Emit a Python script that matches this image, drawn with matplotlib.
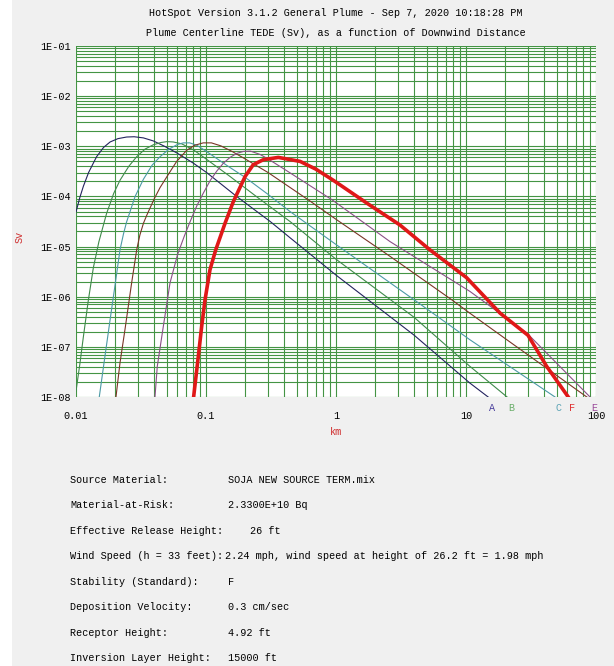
import matplotlib
matplotlib.use("Agg")
import matplotlib.pyplot as plt
from matplotlib.patches import Rectangle
from matplotlib.ticker import FixedLocator, NullFormatter, LogLocator

# ---- data (km, Sv) ----
a_km = [0.0100, 0.0107, 0.0114, 0.0125, 0.0144, 0.0163, 0.0183, 0.0210, 0.0245, 0.0280,
        0.0330, 0.0393, 0.0480, 0.0595, 0.080, 0.101, 0.172, 0.310, 0.443, 1.00, 4.00, 10.7, 14.8]
a_sv = [4.9e-5, 9.5e-5, 1.6e-4, 3.0e-4, 6.2e-4, 9.5e-4, 1.22e-3, 1.42e-3, 1.53e-3, 1.55e-3,
        1.47e-3, 1.28e-3, 1.0e-3, 7.4e-4, 4.6e-4, 3.0e-4, 1.0e-4, 3.2e-5, 1.5e-5, 2.7e-6, 1.7e-7,
        1.9e-8, 1.0e-8]

b_km = [0.0100, 0.0107, 0.0114, 0.0124, 0.0136, 0.0150, 0.0172, 0.0195, 0.0218, 0.0255, 0.0293,
        0.0340, 0.0393, 0.0450, 0.0500, 0.0560, 0.065, 0.080, 0.100, 0.150, 0.250, 0.443, 1.00,
        3.98, 10.7, 20.7]
b_sv = [1.3e-8, 4.5e-8, 1.6e-7, 8.0e-7, 3.8e-6, 1.25e-5, 4.6e-5, 1.15e-4, 2.1e-4, 4.0e-4, 6.2e-4,
        8.8e-4, 1.07e-3, 1.19e-3, 1.24e-3, 1.22e-3, 1.12e-3, 8.5e-4, 5.6e-4, 2.6e-4, 9.5e-5, 3.16e-5,
        5.6e-6, 3.9e-7, 4.1e-8, 1.0e-8]

c_km = [0.0151, 0.0165, 0.0183, 0.0199, 0.0218, 0.0232, 0.0245, 0.0285, 0.0330, 0.0385, 0.0443,
        0.0520, 0.0600, 0.0669, 0.0750, 0.0850, 0.100, 0.150, 0.200, 0.300, 0.443, 1.00, 4.17,
        10.7, 48.4]
c_sv = [1.0e-8, 5.2e-8, 3.5e-7, 1.6e-6, 8.6e-6, 1.8e-5, 3.1e-5, 1.0e-4, 2.2e-4, 4.2e-4, 6.2e-4,
        8.8e-4, 1.08e-3, 1.17e-3, 1.17e-3, 1.05e-3, 8.0e-4, 3.9e-4, 2.4e-4, 1.1e-4, 5.0e-5, 1.1e-5,
        8.0e-7, 1.39e-7, 1.0e-8]

d_km = [0.0203, 0.0218, 0.0238, 0.0268, 0.0293, 0.0310, 0.0330, 0.0350, 0.0400, 0.0443, 0.0520,
        0.0595, 0.0710, 0.0820, 0.0953, 0.110, 0.130, 0.160, 0.200, 0.300, 0.610, 1.00, 2.60,
        7.76, 10.7, 20.5, 85.0]
d_sv = [1.0e-8, 4.8e-8, 2.2e-7, 1.9e-6, 8.6e-6, 1.7e-5, 2.9e-5, 4.2e-5, 9.0e-5, 1.5e-4, 2.9e-4,
        5.0e-4, 8.3e-4, 1.05e-3, 1.17e-3, 1.17e-3, 1.02e-3, 7.8e-4, 5.6e-4, 3.0e-4, 8.6e-5, 3.5e-5,
        6.4e-6, 8.7e-7, 4.7e-7, 1.4e-7, 1.0e-8]

e_km = [0.0405, 0.0422, 0.0470, 0.0529, 0.0605, 0.0680, 0.0753, 0.0850, 0.0953, 0.108, 0.121,
        0.136, 0.153, 0.172, 0.194, 0.220, 0.260, 0.300, 0.400, 0.930, 2.60, 10.7, 29.3, 90.0]
e_sv = [1.0e-8, 4.1e-8, 2.6e-7, 1.9e-6, 7.0e-6, 1.6e-5, 3.1e-5, 6.5e-5, 1.16e-4, 2.1e-4, 3.2e-4,
        4.6e-4, 6.0e-4, 7.2e-4, 7.9e-4, 8.0e-4, 6.9e-4, 5.6e-4, 3.5e-4, 8.6e-5, 1.26e-5, 1.28e-6,
        1.9e-7, 1.0e-8]

f_km = [0.0803, 0.0873, 0.0927, 0.0983, 0.1073, 0.1188, 0.140, 0.162, 0.200, 0.231, 0.276, 0.360,
        0.529, 0.700, 0.953, 1.72, 3.10, 5.28, 10.1, 18.3, 30.0, 41.7, 61.2]
f_sv = [1.0e-8, 6.5e-8, 2.6e-7, 8.7e-7, 3.45e-6, 8.6e-6, 2.9e-5, 7.8e-5, 2.5e-4, 4.3e-4, 5.4e-4,
        6.0e-4, 5.0e-4, 3.5e-4, 2.1e-4, 7.4e-5, 2.7e-5, 8.6e-6, 2.4e-6, 4.7e-7, 1.7e-7, 4.1e-8, 1.0e-8]

classes = ["A", "B", "C", "D", "E", "F"]
curve_km = [a_km, b_km, c_km, d_km, e_km, f_km]
curve_sv = [a_sv, b_sv, c_sv, d_sv, e_sv, f_sv]
labelled = ["A", "B", "C", "F", "E"]   # D label is hidden in the original

x_ticks = [0.01, 0.1, 1, 10, 100]
x_ticklabels = ["0.01", "0.1", "1", "10", "100"]
y_ticks = [1e-8, 1e-7, 1e-6, 1e-5, 1e-4, 1e-3, 1e-2, 1e-1]
y_ticklabels = ["1E-08", "1E-07", "1E-06", "1E-05", "1E-04", "1E-03", "1E-02", "1E-01"]

title_1 = "HotSpot Version 3.1.2 General Plume - Sep 7, 2020 10:18:28 PM"
title_2 = "Plume Centerline TEDE (Sv), as a function of Downwind Distance"

info_labels = ["Source Material:", "Material-at-Risk:", "Effective Release Height:",
               "Wind Speed (h = 33 feet):", "Stability (Standard):", "Deposition Velocity:",
               "Receptor Height:", "Inversion Layer Height:"]
info_values = ["SOJA NEW SOURCE TERM.mix", "2.3300E+10 Bq", "26 ft",
               "2.24 mph, wind speed at height of 26.2 ft = 1.98 mph", "F", "0.3 cm/sec",
               "4.92 ft", "15000 ft"]

# ---- styles ----
LINE_COLORS = {"A": "#23235e", "B": "#3f8a4a", "C": "#4c9aa6", "D": "#7a3526",
               "E": "#8a4f86", "F": "#e01818"}
LABEL_COLORS = {"A": "#4a3f9c", "B": "#6aae6a", "C": "#5aa2b4", "D": "#7a3526",
                "E": "#9a4a9a", "F": "#e03030"}
GRID = "#449444"
FONT = "Liberation Mono"
FS = 7.3

W, H = 614, 666
fig = plt.figure(figsize=(W / 100, H / 100), dpi=100, facecolor="#f0f0f0")
fig.patches.append(Rectangle((0, 0), 12 / W, 1, transform=fig.transFigure,
                             facecolor="white", edgecolor="none", zorder=0))

ax = fig.add_axes([76 / W, 1 - 397 / H, 520 / W, 351 / H])
ax.set_facecolor("white")
ax.set_xscale("log")
ax.set_yscale("log")
ax.set_xlim(0.01, 100)
ax.set_ylim(1e-8, 1e-1)

ax.xaxis.set_major_locator(FixedLocator(x_ticks))
ax.yaxis.set_major_locator(FixedLocator(y_ticks))
ax.xaxis.set_minor_locator(LogLocator(base=10, subs=range(2, 10), numticks=20))
ax.yaxis.set_minor_locator(LogLocator(base=10, subs=range(2, 10), numticks=20))
ax.xaxis.set_minor_formatter(NullFormatter())
ax.yaxis.set_minor_formatter(NullFormatter())
ax.set_xticklabels(x_ticklabels, family=FONT, fontsize=FS)
ax.set_yticklabels(y_ticklabels, family=FONT, fontsize=FS)
ax.tick_params(which="both", length=0)
ax.tick_params(axis="x", pad=10)
ax.tick_params(axis="y", pad=4)
ax.grid(which="both", color=GRID, linewidth=0.8)
ax.set_axisbelow(True)
for s in ax.spines.values():
    s.set_visible(False)

for cls, xs, ys in zip(classes, curve_km, curve_sv):
    lw = 2.6 if cls == "F" else 0.8
    ax.plot(xs, ys, color=LINE_COLORS[cls], linewidth=lw, solid_joinstyle="round",
            clip_on=True, zorder=3 if cls == "F" else 2)

for cls in labelled:
    i = classes.index(cls)
    ax.annotate(cls, xy=(curve_km[i][-1], 0), xycoords=("data", "axes fraction"),
                xytext=(4, -11), textcoords="offset pixels", ha="center", va="center",
                family=FONT, fontsize=FS, color=LABEL_COLORS[cls], annotation_clip=False)

fig.text(336 / W, 1 - 13 / H, title_1, ha="center", va="center", family=FONT, fontsize=FS)
fig.text(336 / W, 1 - 33 / H, title_2, ha="center", va="center", family=FONT, fontsize=FS)
fig.text(20 / W, 1 - 237 / H, "Sv", rotation=90, ha="center", va="center",
         family=FONT, fontsize=FS, color="#d03030")
fig.text(336 / W, 1 - 432 / H, "km", ha="center", va="center",
         family=FONT, fontsize=FS, color="#d03030")

value_x = [228, 228, 250, 225, 228, 228, 228, 228]
for i, (lab, val) in enumerate(zip(info_labels, info_values)):
    y = 1 - (480 + 25.45 * i) / H
    fig.text(70 / W, y, lab, ha="left", va="center", family=FONT, fontsize=FS)
    fig.text(value_x[i] / W, y, val, ha="left", va="center", family=FONT, fontsize=FS)

fig.savefig("out.png", dpi=100, facecolor=fig.get_facecolor())
